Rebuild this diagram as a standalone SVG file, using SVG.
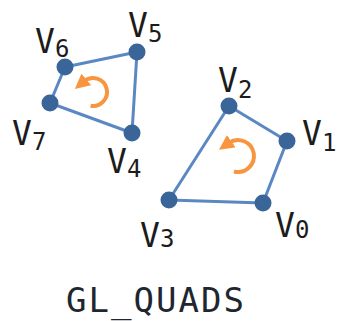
<svg xmlns="http://www.w3.org/2000/svg" width="342" height="321" viewBox="0 0 342 321">
<defs>
<style>
.edge{fill:none;stroke:#5b88c2;stroke-width:3;stroke-linejoin:round}
.dot{fill:#3a6598}
.lbl{font-family:"DejaVu Sans Mono","Liberation Mono",monospace;font-size:33px;fill:#1c1c1c}
.sub{font-size:24px}
.rot{fill:none;stroke:#f7963f;stroke-width:4;stroke-linecap:butt}
.title{font-family:"DejaVu Sans Mono","Liberation Mono",monospace;font-size:34px;fill:#1e2630}
</style>
<marker id="ah" viewBox="0 0 10 10" refX="2" refY="5" markerWidth="15" markerHeight="15" markerUnits="userSpaceOnUse" orient="auto">
<path d="M0,0 L10,5 L0,10 Z" fill="#f7963f"/>
</marker>
</defs>
<g id="connectors">
<polygon class="edge" points="132,133 137,52 65,67 50,103"/>
<polygon class="edge" points="263,203 287,141 229,106 169,200"/>
<path class="rot" d="M90.6,105.8 A14,14 0 1 0 84,81.3" marker-end="url(#ah)"/>
<path class="rot" d="M233.9,171.5 A16,16 0 1 0 228.8,142.9" marker-end="url(#ah)"/>
</g>
<g id="v4"><circle class="dot" cx="132" cy="133" r="8.5"/><text class="lbl" x="107" y="173">V<tspan class="sub" dy="4">4</tspan></text></g>
<g id="v5"><circle class="dot" cx="137" cy="52" r="8.5"/><text class="lbl" x="128" y="37">V<tspan class="sub" dy="5">5</tspan></text></g>
<g id="v6"><circle class="dot" cx="65" cy="67" r="8.5"/><text class="lbl" x="35" y="53">V<tspan class="sub" dy="4">6</tspan></text></g>
<g id="v7"><circle class="dot" cx="50" cy="103" r="8.5"/><text class="lbl" x="12" y="145">V<tspan class="sub" dy="5">7</tspan></text></g>
<g id="v0"><circle class="dot" cx="263" cy="203" r="8.5"/><text class="lbl" x="275" y="237">V<tspan class="sub" dy="1">0</tspan></text></g>
<g id="v1"><circle class="dot" cx="287" cy="141" r="8.5"/><text class="lbl" x="302" y="145">V<tspan class="sub" dy="6">1</tspan></text></g>
<g id="v2"><circle class="dot" cx="229" cy="106" r="8.5"/><text class="lbl" x="218" y="92">V<tspan class="sub" dy="6">2</tspan></text></g>
<g id="v3"><circle class="dot" cx="169" cy="200" r="8.5"/><text class="lbl" x="140" y="247">V<tspan class="sub" dy="0">3</tspan></text></g>
<g id="title"><text class="title" x="66" y="312" textLength="178">GL_QUADS</text></g>
</svg>
